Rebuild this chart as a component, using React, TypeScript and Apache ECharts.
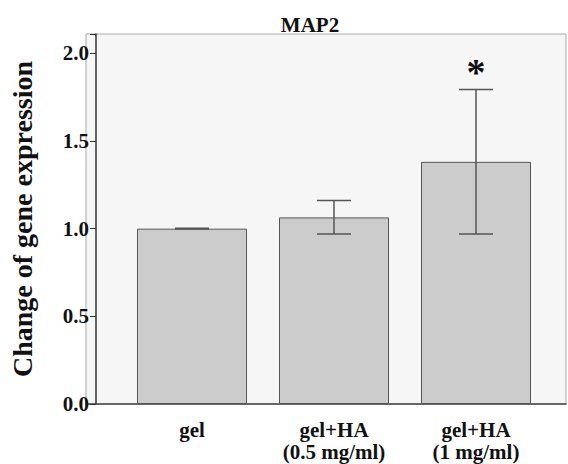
import React, { useEffect, useRef } from "react";
import * as echarts from "echarts";

const categories = ["gel", "gel+HA\n(0.5 mg/ml)", "gel+HA\n(1 mg/ml)"];
const means = [1.0, 1.064, 1.381];
const upper = [1.002, 1.161, 1.793];
const lower = [0.998, 0.969, 0.97];
const significance = ["", "", "*"];
const yTicks = [0, 0.5, 1.0, 1.5, 2.0];

const FONT = "Liberation Serif, Times New Roman, serif";

export default function App() {
  const ref = useRef<HTMLDivElement>(null);
  useEffect(() => {
    document.body.style.margin = "0";
    const chart = echarts.init(ref.current!, null, { renderer: "svg" });
    const errData = categories.map((_, i) => [i, lower[i], upper[i]]);
    chart.setOption({
      animation: false,
      backgroundColor: "#ffffff",
      title: {
        text: "MAP2",
        left: 305,
        top: 9,
        textAlign: "center",
        textStyle: { fontFamily: FONT, fontWeight: "bold", fontSize: 21, color: "#111" },
      },
      grid: [
        {
          left: 86,
          top: 34,
          width: 480,
          bottom: 60,
          show: true,
          backgroundColor: "#f6f6f6",
          borderColor: "#aaa",
          borderWidth: 1,
        },
        {
          left: 111,
          top: 34,
          width: 436,
          bottom: 60,
        },
      ],
      xAxis: [
        {
          type: "value",
          gridIndex: 0,
          min: 0,
          max: 1,
          axisLine: { show: true, onZero: false, lineStyle: { color: "#444", width: 1.5 } },
          axisTick: { show: false },
          axisLabel: { show: false },
          splitLine: { show: false },
        },
        {
          type: "category",
          gridIndex: 1,
          data: categories,
          boundaryGap: true,
          axisLine: { show: false },
          axisTick: { show: false },
          axisLabel: {
            fontFamily: FONT,
            fontWeight: "bold",
            fontSize: 21,
            color: "#111",
            lineHeight: 22,
            margin: 15,
            verticalAlign: "top",
          },
        },
      ],
      yAxis: [
        { type: "value", gridIndex: 0, show: false, min: 0, max: 2.11 },
        {
          type: "value",
          gridIndex: 1,
          min: 0,
          max: 2.11,
          interval: 0.5,
          offset: 25,
          name: "Change of gene expression",
          nameLocation: "middle",
          nameGap: 60,
          nameTextStyle: { fontFamily: FONT, fontWeight: "bold", fontSize: 28, color: "#111" },
          axisLine: { show: true, lineStyle: { color: "#333", width: 1.5 } },
          axisTick: { show: true, length: 6, lineStyle: { color: "#333" } },
          splitLine: { show: false },
          axisLabel: {
            fontFamily: FONT,
            fontWeight: "bold",
            fontSize: 21,
            color: "#111",
            margin: 7,
            formatter: (v: number) => (yTicks.includes(v) ? v.toFixed(1) : ""),
          },
        },
      ],
      series: [
        {
          type: "bar",
          xAxisIndex: 1,
          yAxisIndex: 1,
          data: means,
          barWidth: 110,
          itemStyle: { color: "#cccccc", borderColor: "#555", borderWidth: 1 },
          z: 2,
        },
        {
          type: "custom",
          xAxisIndex: 1,
          yAxisIndex: 1,
          data: errData,
          z: 3,
          renderItem: (params: any, api: any) => {
            const x = api.value(0);
            const lo = api.coord([x, api.value(1)]);
            const hi = api.coord([x, api.value(2)]);
            const sig = significance[params.dataIndex];
            const half = 17;
            const style = { stroke: "#555", lineWidth: 1.5 };
            const children: any[] = [
              { type: "line", shape: { x1: hi[0], y1: hi[1], x2: lo[0], y2: lo[1] }, style },
              { type: "line", shape: { x1: hi[0] - half, y1: hi[1], x2: hi[0] + half, y2: hi[1] }, style },
              { type: "line", shape: { x1: lo[0] - half, y1: lo[1], x2: lo[0] + half, y2: lo[1] }, style },
            ];
            if (sig) {
              children.push({
                type: "text",
                style: {
                  text: sig,
                  x: hi[0],
                  y: hi[1] + 1,
                  textAlign: "center",
                  textVerticalAlign: "bottom",
                  font: `bold 38px ${FONT}`,
                  fill: "#111",
                },
              });
            }
            return { type: "group", children };
          },
        },
      ],
    });
    return () => chart.dispose();
  }, []);
  return <div ref={ref} style={{ width: 568, height: 464 }} />;
}
